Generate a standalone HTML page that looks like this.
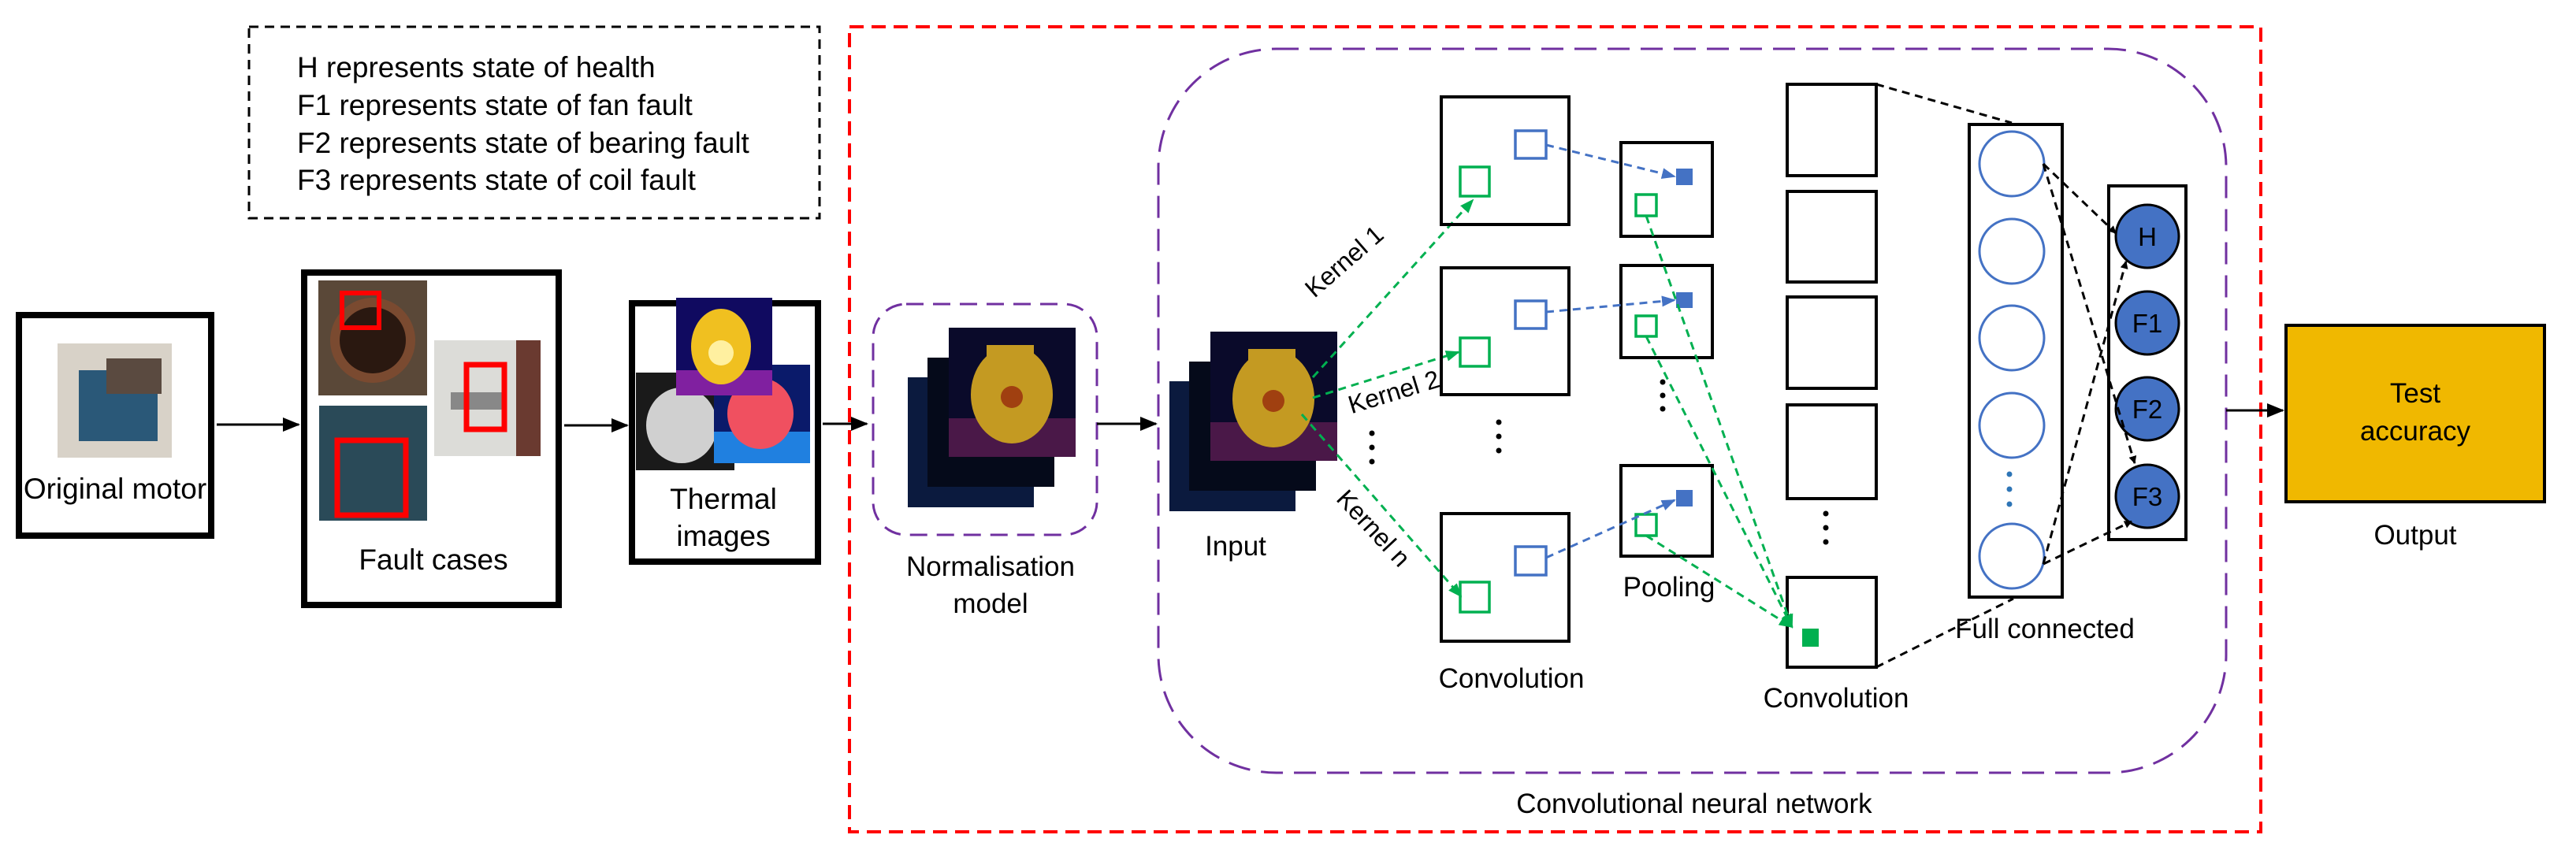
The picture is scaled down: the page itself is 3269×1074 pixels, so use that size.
<!DOCTYPE html>
<html><head><meta charset="utf-8"><style>
html,body{margin:0;padding:0;background:#fff;}
svg{display:block;}
text{font-family:"Liberation Sans",Arial,sans-serif;fill:#000;}
</style></head><body>
<svg width="3269" height="1074" viewBox="0 0 3269 1074" xmlns="http://www.w3.org/2000/svg">
<defs>
<marker id="ab" markerWidth="10" markerHeight="10" refX="9" refY="5" orient="auto" markerUnits="userSpaceOnUse" viewBox="0 0 10 10"><path d="M0,0 L10,5 L0,10 z" fill="#000"/></marker>
<marker id="abk" markerWidth="22" markerHeight="22" refX="20" refY="11" orient="auto" markerUnits="userSpaceOnUse"><path d="M0,2 L22,11 L0,20 z" fill="#000"/></marker>
<marker id="ag" markerWidth="18" markerHeight="18" refX="16" refY="9" orient="auto" markerUnits="userSpaceOnUse"><path d="M0,2 L18,9 L0,16 z" fill="#00b050"/></marker>
<marker id="abl" markerWidth="18" markerHeight="18" refX="16" refY="9" orient="auto" markerUnits="userSpaceOnUse"><path d="M0,2 L18,9 L0,16 z" fill="#4472c4"/></marker>
<radialGradient id="mot" cx="50%" cy="55%" r="50%"><stop offset="0" stop-color="#e0b030"/><stop offset="0.7" stop-color="#b08a20"/><stop offset="1" stop-color="#0a0a30"/></radialGradient>
<g id="stack">
<rect x="0" y="63" width="160" height="165" fill="#0b1a3e"/>
<rect x="25" y="38" width="161" height="164" fill="#050a1a"/>
<rect x="52" y="0" width="161" height="164" fill="#0a0a2a"/>
<rect x="52" y="115" width="161" height="49" fill="#4a1848"/>
<ellipse cx="132" cy="85" rx="52" ry="62" fill="#c49a22"/>
<rect x="100" y="22" width="60" height="40" fill="#c49a22"/>
<circle cx="132" cy="88" r="14" fill="#a04010"/>
</g>
</defs>

<!-- legend -->
<rect x="316" y="34" width="724" height="243" fill="none" stroke="#000" stroke-width="3" stroke-dasharray="12,8"/>
<text x="377" y="98" font-size="37">H represents state of health</text>
<text x="377" y="146" font-size="37">F1 represents state of fan fault</text>
<text x="377" y="194" font-size="37">F2 represents state of bearing fault</text>
<text x="377" y="241" font-size="37">F3 represents state of  coil fault</text>

<!-- original motor -->
<rect x="24" y="400" width="244" height="280" fill="none" stroke="#000" stroke-width="8"/>
<rect x="73" y="436" width="145" height="145" fill="#d8d2c8"/>
<rect x="100" y="470" width="100" height="90" fill="#2a5878"/>
<rect x="135" y="455" width="70" height="45" fill="#5a4a40"/>
<text x="146" y="633" font-size="37" text-anchor="middle">Original motor</text>
<line x1="275" y1="539" x2="379" y2="539" stroke="#000" stroke-width="3" marker-end="url(#abk)"/>

<!-- fault cases -->
<rect x="386" y="346" width="323" height="422" fill="none" stroke="#000" stroke-width="8"/>
<rect x="404" y="356" width="138" height="146" fill="#5a4838"/>
<circle cx="473" cy="432" r="48" fill="#2a1810" stroke="#7a4a30" stroke-width="12"/>
<rect x="434" y="372" width="47" height="44" fill="none" stroke="#f00" stroke-width="6"/>
<rect x="405" y="515" width="137" height="146" fill="#2a4a58"/>
<rect x="428" y="559" width="87" height="95" fill="none" stroke="#f00" stroke-width="7"/>
<rect x="551" y="432" width="135" height="147" fill="#dcdcd8"/>
<rect x="655" y="432" width="31" height="147" fill="#6a3a30"/>
<rect x="572" y="498" width="70" height="22" fill="#888"/>
<rect x="592" y="463" width="48" height="82" fill="none" stroke="#f00" stroke-width="7"/>
<text x="550" y="723" font-size="37" text-anchor="middle">Fault cases</text>
<line x1="716" y1="540" x2="796" y2="540" stroke="#000" stroke-width="3" marker-end="url(#abk)"/>

<!-- thermal -->
<rect x="802" y="385" width="236" height="328" fill="none" stroke="#000" stroke-width="8"/>
<rect x="807" y="473" width="125" height="124" fill="#1a1a1a"/>
<ellipse cx="865" cy="540" rx="45" ry="48" fill="#d0d0d0"/>
<rect x="906" y="463" width="122" height="125" fill="#0a1a6a"/>
<rect x="906" y="548" width="122" height="40" fill="#2080e0"/>
<ellipse cx="965" cy="525" rx="42" ry="45" fill="#f05060"/>
<rect x="858" y="378" width="122" height="124" fill="#100a60"/>
<rect x="858" y="470" width="122" height="32" fill="#8020a0"/>
<ellipse cx="915" cy="440" rx="38" ry="48" fill="#f0c020"/>
<circle cx="915" cy="448" r="16" fill="#fff0a0"/>
<text x="918" y="646" font-size="37" text-anchor="middle">Thermal</text>
<text x="918" y="693" font-size="37" text-anchor="middle">images</text>
<line x1="1044" y1="538" x2="1100" y2="538" stroke="#000" stroke-width="3" marker-end="url(#abk)"/>

<!-- red dashed CNN region -->
<rect x="1078" y="34" width="1791" height="1022" fill="none" stroke="#f00" stroke-width="4" stroke-dasharray="18,10"/>
<text x="2150" y="1032" font-size="35" text-anchor="middle">Convolutional neural network</text>

<!-- normalisation -->
<rect x="1108" y="386" width="284" height="293" rx="42" fill="none" stroke="#7030a0" stroke-width="3" stroke-dasharray="22,12"/>
<use href="#stack" x="1152" y="416"/>
<text x="1257" y="731" font-size="35" text-anchor="middle">Normalisation</text>
<text x="1257" y="778" font-size="35" text-anchor="middle">model</text>
<line x1="1392" y1="538" x2="1467" y2="538" stroke="#000" stroke-width="3" marker-end="url(#abk)"/>

<!-- big purple -->
<rect x="1470" y="62" width="1355" height="919" rx="150" fill="none" stroke="#7030a0" stroke-width="3" stroke-dasharray="28,14"/>

<!-- input -->
<use href="#stack" x="1484" y="421"/>
<text x="1568" y="705" font-size="35" text-anchor="middle">Input</text>

<!-- kernel arrows -->
<g stroke="#00b050" stroke-width="3" stroke-dasharray="10,7" fill="none">
<line x1="1666" y1="479" x2="1869" y2="254" marker-end="url(#ag)"/>
<line x1="1666" y1="505" x2="1851" y2="447" marker-end="url(#ag)"/>
<line x1="1652" y1="526" x2="1854" y2="757" marker-end="url(#ag)"/>
</g>
<text font-size="32" transform="translate(1713,340) rotate(-41)" text-anchor="middle">Kernel 1</text>
<text font-size="32" transform="translate(1772,508) rotate(-17)" text-anchor="middle">Kernel 2</text>
<text font-size="32" transform="translate(1735,678) rotate(47)" text-anchor="middle">Kernel n</text>
<g fill="#000"><circle cx="1741" cy="550" r="3.5"/><circle cx="1741" cy="568" r="3.5"/><circle cx="1741" cy="586" r="3.5"/>
<circle cx="1902" cy="536" r="3.5"/><circle cx="1902" cy="554" r="3.5"/><circle cx="1902" cy="572" r="3.5"/>
<circle cx="2110" cy="485" r="3.5"/><circle cx="2110" cy="502" r="3.5"/><circle cx="2110" cy="519" r="3.5"/>
<circle cx="2317" cy="652" r="3.5"/><circle cx="2317" cy="670" r="3.5"/><circle cx="2317" cy="688" r="3.5"/></g>

<!-- conv boxes -->
<g fill="none" stroke="#000" stroke-width="4">
<rect x="1829" y="123" width="162" height="162"/>
<rect x="1829" y="340" width="162" height="161"/>
<rect x="1829" y="652" width="162" height="162"/>
<rect x="2057" y="181" width="116" height="119"/>
<rect x="2057" y="337" width="116" height="117"/>
<rect x="2057" y="591" width="116" height="115"/>
<rect x="2268" y="107" width="113" height="116"/>
<rect x="2268" y="243" width="113" height="115"/>
<rect x="2268" y="377" width="113" height="116"/>
<rect x="2268" y="514" width="113" height="119"/>
<rect x="2268" y="733" width="113" height="114"/>
</g>
<g fill="none" stroke="#4472c4" stroke-width="3.5">
<rect x="1923" y="166" width="39" height="35"/>
<rect x="1923" y="382" width="39" height="35"/>
<rect x="1923" y="694" width="39" height="36"/>
</g>
<g fill="none" stroke="#00b050" stroke-width="3.5">
<rect x="1853" y="212" width="37" height="37"/>
<rect x="1853" y="429" width="37" height="36"/>
<rect x="1853" y="739" width="37" height="38"/>
<rect x="2076" y="247" width="26" height="27"/>
<rect x="2076" y="401" width="26" height="26"/>
<rect x="2076" y="653" width="26" height="27"/>
</g>
<g fill="#4472c4">
<rect x="2127" y="214" width="21" height="21"/>
<rect x="2127" y="371" width="21" height="20"/>
<rect x="2127" y="622" width="21" height="21"/>
</g>
<g stroke="#4472c4" stroke-width="3" stroke-dasharray="10,7" fill="none">
<line x1="1962" y1="184" x2="2125" y2="224" marker-end="url(#abl)"/>
<line x1="1962" y1="396" x2="2125" y2="381" marker-end="url(#abl)"/>
<line x1="1962" y1="708" x2="2125" y2="635" marker-end="url(#abl)"/>
</g>
<g stroke="#00b050" stroke-width="3" stroke-dasharray="10,7" fill="none">
<line x1="2089" y1="274" x2="2274" y2="796" marker-end="url(#ag)"/>
<line x1="2089" y1="427" x2="2274" y2="796" marker-end="url(#ag)"/>
<line x1="2089" y1="680" x2="2274" y2="796" marker-end="url(#ag)"/>
</g>
<rect x="2287" y="798" width="21" height="23" fill="#00b050"/>
<text x="1918" y="873" font-size="35" text-anchor="middle">Convolution</text>
<text x="2118" y="757" font-size="35" text-anchor="middle">Pooling</text>
<text x="2330" y="898" font-size="35" text-anchor="middle">Convolution</text>

<!-- fully connected -->
<rect x="2499" y="158" width="118" height="600" fill="none" stroke="#000" stroke-width="4"/>
<g fill="none" stroke="#4472c4" stroke-width="3">
<circle cx="2553" cy="208" r="41"/><circle cx="2553" cy="319" r="41"/><circle cx="2553" cy="429" r="41"/><circle cx="2553" cy="540" r="41"/><circle cx="2553" cy="706" r="41"/>
</g>
<g fill="#2e75b6"><circle cx="2550" cy="602" r="3.5"/><circle cx="2550" cy="621" r="3.5"/><circle cx="2550" cy="640" r="3.5"/></g>
<text x="2595" y="810" font-size="35" text-anchor="middle">Full connected</text>
<rect x="2676" y="236" width="98" height="449" fill="none" stroke="#000" stroke-width="4"/>
<g fill="#4472c4" stroke="#000" stroke-width="3">
<circle cx="2725" cy="300" r="40"/><circle cx="2725" cy="410" r="40"/><circle cx="2725" cy="519" r="40"/><circle cx="2725" cy="630" r="40"/>
</g>
<text x="2725" y="312" font-size="33" text-anchor="middle">H</text>
<text x="2725" y="422" font-size="33" text-anchor="middle">F1</text>
<text x="2725" y="531" font-size="33" text-anchor="middle">F2</text>
<text x="2725" y="642" font-size="33" text-anchor="middle">F3</text>
<g stroke="#000" stroke-width="3" stroke-dasharray="10,7" fill="none">
<line x1="2381" y1="107" x2="2553" y2="156"/>
<line x1="2381" y1="847" x2="2555" y2="760"/>
<line x1="2593" y1="208" x2="2685" y2="296" marker-end="url(#ab)"/>
<line x1="2593" y1="208" x2="2709" y2="588" marker-end="url(#ab)"/>
<line x1="2593" y1="716" x2="2705" y2="662" marker-end="url(#ab)"/>
<line x1="2593" y1="716" x2="2698" y2="332" marker-end="url(#ab)"/>
</g>

<!-- output -->
<line x1="2825" y1="521" x2="2897" y2="521" stroke="#000" stroke-width="3" marker-end="url(#abk)"/>
<rect x="2901" y="413" width="328" height="224" fill="#f0b800" stroke="#000" stroke-width="4"/>
<text x="3065" y="511" font-size="35" text-anchor="middle">Test</text>
<text x="3065" y="559" font-size="35" text-anchor="middle">accuracy</text>
<text x="3065" y="691" font-size="35" text-anchor="middle">Output</text>
</svg>
</body></html>
